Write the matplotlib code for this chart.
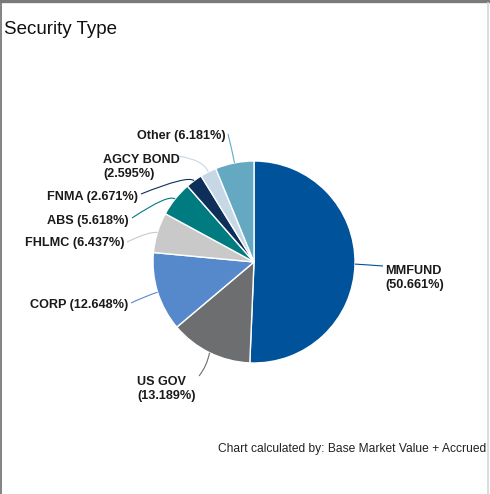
import numpy as np
import matplotlib
matplotlib.use("Agg")
import matplotlib.pyplot as plt
from matplotlib.path import Path
from matplotlib.patches import PathPatch
from matplotlib.lines import Line2D

plt.rcParams["font.family"] = ["Liberation Sans", "DejaVu Sans"]

# security type breakdown, clockwise from 12 o'clock
types = ["MMFUND", "US GOV", "CORP", "FHLMC", "ABS", "FNMA", "AGCY BOND", "Other"]
shares = [50.661, 13.189, 12.648, 6.437, 5.618, 2.671, 2.595, 6.181]
colors = ["#00529b", "#6d6e70", "#5689cc", "#c9c9c9", "#007b80",
          "#0d2f5a", "#c6d8e6", "#64a9c1"]

W, H = 490, 494
cx, cy, R = 254, 262, 101  # pie centre / radius in pixels (y from top)

fig = plt.figure(figsize=(W / 100, H / 100), dpi=100)
ax = fig.add_axes([0, 0, 1, 1])

ax.pie(shares, colors=colors, startangle=90, counterclock=False,
       center=(cx, H - cy), radius=R,
       wedgeprops=dict(edgecolor="white", linewidth=1))
ax.set_xlim(0, W)
ax.set_ylim(0, H)
ax.set_aspect("auto")
ax.axis("off")

# label layout: text anchor (x, y from top), alignment, leader start
layout = {
    "MMFUND":    dict(xy=(385, 278), ha="left", start=(383, 266), elbow=(370, 265)),
    "US GOV":    dict(xy=(137, 389), ha="left", start=(199, 376), elbow=(207, 366)),
    "CORP":      dict(xy=(128, 305), ha="right", start=(131, 303), elbow=(146, 296)),
    "FHLMC":     dict(xy=(124, 243), ha="right", start=(127, 242), elbow=(150, 231)),
    "ABS":       dict(xy=(129, 221), ha="right", start=(132, 218), elbow=(168, 194)),
    "FNMA":      dict(xy=(138, 197), ha="right", start=(141, 194), elbow=(188, 175)),
    "AGCY BOND": dict(xy=(103, 167), ha="left", start=(178, 156), elbow=(204, 160)),
    "Other":     dict(xy=(226, 136), ha="right", start=(228, 134), elbow=(232, 150)),
}

cum = np.cumsum([0] + shares[:-1])
for name, val, c0, col in zip(types, shares, cum, colors):
    frac = (c0 + val / 2) / sum(shares)
    ang = np.radians(90 - 360 * frac)
    ex, ey = cx + R * np.cos(ang), cy - R * np.sin(ang)
    lay = layout[name]
    sx, sy = lay["start"]
    kx, ky = lay["elbow"]
    path = Path([(sx, H - sy), (kx, H - ky), (ex, H - ey)],
                [Path.MOVETO, Path.CURVE3, Path.CURVE3])
    ax.add_patch(PathPatch(path, facecolor="none", edgecolor=col, lw=0.8))
    if name in ("MMFUND", "US GOV", "AGCY BOND"):
        text = f"{name}\n({val:.3f}%)"
    else:
        text = f"{name} ({val:.3f}%)"
    tx, ty = lay["xy"]
    ax.text(tx, H - ty, text, ha=lay["ha"], va="center", fontsize=9.1,
            fontweight="bold", color="#1a1a1a", linespacing=1.2)

fig.text(4 / W, 1 - 29 / H, "Security Type", fontsize=13.5, color="#111111",
         ha="left", va="center")
fig.text(486 / W, 1 - 449 / H, "Chart calculated by: Base Market Value + Accrued",
         fontsize=8.65, color="#222222", ha="right", va="center")

# panel borders
fig.add_artist(Line2D([0, 1], [1 - 1.5 / H] * 2, color="#7a7a7a", lw=2.4))
fig.add_artist(Line2D([0.8 / W] * 2, [0, 1], color="#7a7a7a", lw=1.3))
fig.add_artist(Line2D([488 / W] * 2, [0, 1 - 3 / H], color="#d6d6d6", lw=1.2))

fig.savefig("out.png", dpi=100)
